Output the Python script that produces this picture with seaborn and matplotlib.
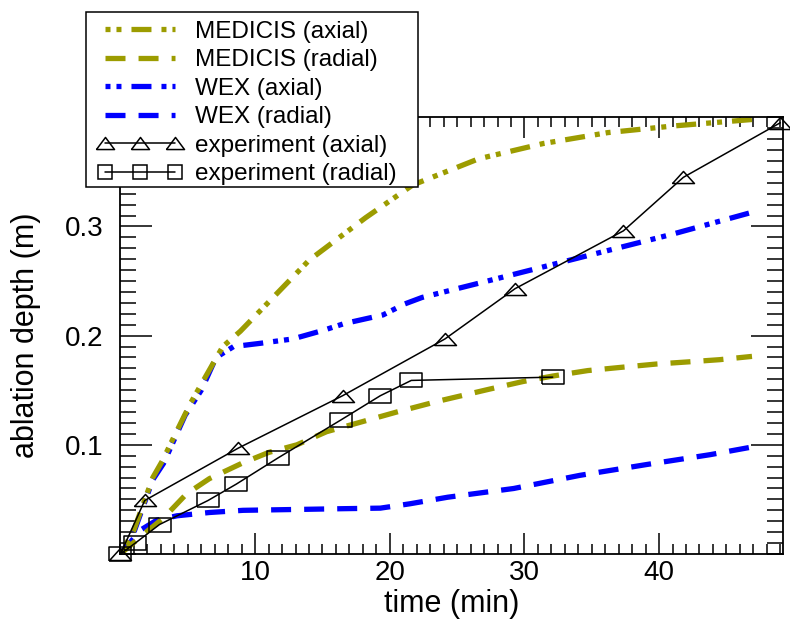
import pandas as pd
import matplotlib
matplotlib.use("Agg")
import matplotlib.pyplot as plt
from matplotlib.ticker import MultipleLocator, FixedLocator
from matplotlib.patches import Rectangle
import seaborn as sns

# --- data ---
medicis_ax_t = [0, 1.0, 2.4, 3.1, 4.0, 5.2, 6.3, 7.6, 8.9, 11.1, 14.0, 18.2, 21.7, 26.6, 31.4, 36.2, 41.0, 46.9]
medicis_ax_d = [0, 0.022, 0.070, 0.085, 0.108, 0.138, 0.162, 0.190, 0.204, 0.232, 0.269, 0.308, 0.338, 0.362, 0.376, 0.386, 0.392, 0.398]

medicis_rad_t = [0, 1.5, 3.2, 4.9, 6.6, 9.0, 11.0, 13.1, 15.3, 17.9, 20.5, 23.6, 27.4, 29.9, 32.1, 34.7, 37.2, 39.8, 42.2, 44.5, 46.9]
medicis_rad_d = [0, 0.016, 0.033, 0.055, 0.069, 0.083, 0.093, 0.100, 0.112, 0.121, 0.130, 0.140, 0.151, 0.158, 0.163, 0.168, 0.171, 0.174, 0.176, 0.178, 0.181]

wex_ax_t = [0, 1.0, 2.4, 3.2, 4.8, 6.0, 7.1, 8.4, 10.4, 12.8, 15.1, 16.6, 19.5, 21.1, 22.4, 26.6, 31.4, 36.2, 41.0, 46.9]
wex_ax_d = [0, 0.020, 0.068, 0.083, 0.127, 0.150, 0.180, 0.190, 0.193, 0.197, 0.205, 0.211, 0.219, 0.229, 0.235, 0.248, 0.263, 0.278, 0.293, 0.313]

wex_rad_t = [0, 1.5, 2.7, 4.2, 6.6, 9.1, 11.6, 14.1, 16.5, 19.3, 21.5, 24.3, 29.2, 34.1, 39.1, 43.8, 46.9]
wex_rad_d = [0, 0.022, 0.031, 0.035, 0.038, 0.040, 0.0405, 0.041, 0.0415, 0.042, 0.046, 0.052, 0.060, 0.072, 0.082, 0.091, 0.098]

exp_ax_t = [0, 1.8, 8.75, 16.5, 24.1, 29.3, 37.35, 41.8, 49.0]
exp_ax_d = [0, 0.049, 0.097, 0.145, 0.197, 0.243, 0.296, 0.345, 0.395]

exp_rad_t = [0, 1.1, 2.9, 6.5, 8.6, 11.7, 16.4, 19.3, 21.6, 32.1]
exp_rad_d = [0, 0.010, 0.027, 0.049, 0.064, 0.088, 0.123, 0.145, 0.159, 0.162]

labels = ["MEDICIS (axial)", "MEDICIS (radial)", "WEX (axial)", "WEX (radial)",
          "experiment (axial)", "experiment (radial)"]

# --- style ---
sns.set_style("white")
plt.rcParams['font.family'] = ['Liberation Sans', 'DejaVu Sans']
plt.rcParams['lines.scale_dashes'] = False
plt.rcParams['text.color'] = 'black'
plt.rcParams['axes.labelcolor'] = 'black'

OLIVE = "#9c9c00"
BLUE = "#0000ff"
DASHED = (0, (14.4, 9.4))
DASH_DOT_DOT = (21.6, (14.4, 7.2, 3.6, 4.3, 3.6, 7.2))

# flattened markers (the reference is stretched sideways)
tri = [(-1, -0.55), (1, -0.55), (0, 0.55), (-1, -0.55)]
rect = [(-1, -0.66), (1, -0.66), (1, 0.66), (-1, 0.66), (-1, -0.66)]

fig = plt.figure(figsize=(7.9, 6.21), dpi=100)
ax = fig.add_axes([0.1525, 0.1079, 0.8386, 0.7032])

def draw(t, d, **kw):
    df = pd.DataFrame({"t": t, "d": d})
    sns.lineplot(data=df, x="t", y="d", ax=ax, sort=False, estimator=None, **kw)
    return ax.lines[-1]

# WEX first so the MEDICIS curves sit on top of it
h_wex_ax = draw(wex_ax_t, wex_ax_d, color=BLUE, linewidth=3.8)
h_wex_ax.set_linestyle(DASH_DOT_DOT)
h_wex_rad = draw(wex_rad_t, wex_rad_d, color=BLUE, linewidth=3.8)
h_wex_rad.set_linestyle(DASHED)
h_med_ax = draw(medicis_ax_t, medicis_ax_d, color=OLIVE, linewidth=3.8)
h_med_ax.set_linestyle(DASH_DOT_DOT)
h_med_rad = draw(medicis_rad_t, medicis_rad_d, color=OLIVE, linewidth=3.8)
h_med_rad.set_linestyle(DASHED)

h_exp_ax = draw(exp_ax_t, exp_ax_d, color="black", linewidth=1.1, marker=tri,
                markersize=15.8, markerfacecolor="none", markeredgecolor="black",
                markeredgewidth=1.1, clip_on=False)
h_exp_rad = draw(exp_rad_t, exp_rad_d, color="black", linewidth=1.1, marker=rect,
                 markersize=15.8, markerfacecolor="none", markeredgecolor="black",
                 markeredgewidth=1.1, clip_on=False)

ax.set_xlim(0, 49.2)
ax.set_ylim(0, 0.4)

ax.xaxis.set_major_locator(FixedLocator([10, 20, 30, 40]))
ax.xaxis.set_minor_locator(MultipleLocator(1))
ax.yaxis.set_major_locator(FixedLocator([0.1, 0.2, 0.3]))
ax.yaxis.set_minor_locator(MultipleLocator(0.01))
ax.set_yticklabels(["0.1", "0.2", "0.3"])

ax.tick_params(axis="both", which="both", direction="in", top=True, right=True,
               bottom=True, left=True, color="black", width=1.1, labelsize=20,
               labelcolor="black")
ax.tick_params(axis="x", which="major", length=15, pad=4.5)
ax.tick_params(axis="x", which="minor", length=7)
ax.tick_params(axis="y", which="major", length=23, pad=12.5)
ax.tick_params(axis="y", which="minor", length=11.5)
for s in ax.spines.values():
    s.set_color("black")
    s.set_linewidth(1.3)

ax.set_xlabel("time (min)", fontsize=22, labelpad=2)
ax.set_ylabel("ablation depth (m)", fontsize=22, labelpad=17)

# legend box drawn by hand so the padding matches the reference
frame = Rectangle((86 / 790, 1 - 187 / 621), 332 / 790, 175 / 621, transform=fig.transFigure,
                  facecolor="white", edgecolor="black", linewidth=1.1, clip_on=False, zorder=4.5)
ax.add_patch(frame)

handles = [h_med_ax, h_med_rad, h_wex_ax, h_wex_rad, h_exp_ax, h_exp_rad]
leg = ax.legend(handles, labels, loc="upper left", bbox_to_anchor=(98 / 790, 1 - 20.5 / 621),
                bbox_transform=fig.transFigure, frameon=False, borderpad=0, borderaxespad=0,
                fontsize=17.5, numpoints=3, handlelength=3.45, handletextpad=0.55,
                labelspacing=0.27)
leg.set_zorder(5)
for lh in leg.legend_handles[4:5]:
    lh.set_marker([(-1, -0.67), (1, -0.67), (0, 0.67), (-1, -0.67)])
    lh.set_markersize(13)
for lh in leg.legend_handles[5:6]:
    lh.set_marker("s")
    lh.set_markersize(9.4)

fig.savefig("out.png", dpi=100)
